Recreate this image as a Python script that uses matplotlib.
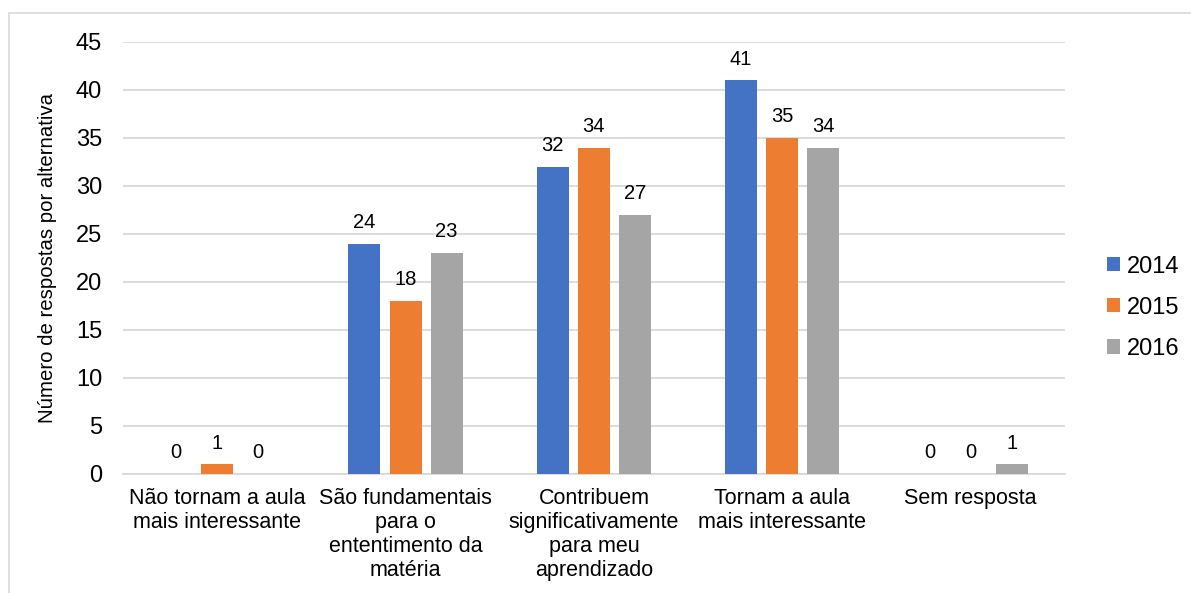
import matplotlib.pyplot as plt
import numpy as np
from matplotlib.patches import Rectangle

plt.rcParams["font.family"] = ["Liberation Sans", "DejaVu Sans"]

categories = [
    "Não tornam a aula\nmais interessante",
    "São fundamentais\npara o\nententimento da\nmatéria",
    "Contribuem\nsignificativamente\npara meu\naprendizado",
    "Tornam a aula\nmais interessante",
    "Sem resposta",
]
years = ["2014", "2015", "2016"]
v2014 = [0, 24, 32, 41, 0]
v2015 = [1, 18, 34, 35, 0]
v2016 = [0, 23, 27, 34, 1]
colors = ["#4472C4", "#ED7D31", "#A5A5A5"]

fig = plt.figure(figsize=(11.91, 5.93), dpi=100)
ax = fig.add_axes([0.1033, 0.2007, 0.7907, 0.7285])

# outer chart frame
fig.patches.append(Rectangle((9 / 1191, -0.02), 1.05, 1 - 13 / 593 + 0.02,
                             transform=fig.transFigure, fill=False,
                             edgecolor="#d9d9d9", linewidth=1.2))

x = np.arange(len(categories))
width = 0.17
step = 0.218
for i, (vals, yr) in enumerate(zip([v2014, v2015, v2016], years)):
    pos = x + (i - 1) * step
    ax.bar(pos, vals, width, color=colors[i], label=yr, zorder=3)
    for px, v in zip(pos, vals):
        ax.text(px, v + 1.65, str(v), ha="center", va="baseline", fontsize=14.5)

ax.set_xlim(-0.5, 4.5)
ax.set_ylim(0, 45)
ax.set_yticks(range(0, 46, 5))
ax.grid(axis="y", color="#d9d9d9", linewidth=1.3, zorder=0)
for s in ["top", "right", "left"]:
    ax.spines[s].set_visible(False)
ax.spines["bottom"].set_color("#d9d9d9")
ax.spines["bottom"].set_linewidth(1.3)
ax.tick_params(axis="both", length=0)
ax.tick_params(axis="y", labelsize=17, pad=15)
ax.set_xticks(x)
ax.set_xticklabels(categories, fontsize=15.5, linespacing=1.2)
ax.tick_params(axis="x", pad=10)
ax.set_ylabel("Número de respostas por alternativa", fontsize=14.7, labelpad=14)

ax.legend(loc="center left", bbox_to_anchor=(1.022, 0.385), frameon=False,
          fontsize=17, handlelength=0.55, handleheight=0.55, handletextpad=0.3,
          labelspacing=0.81)

fig.savefig("out.png", dpi=100)
